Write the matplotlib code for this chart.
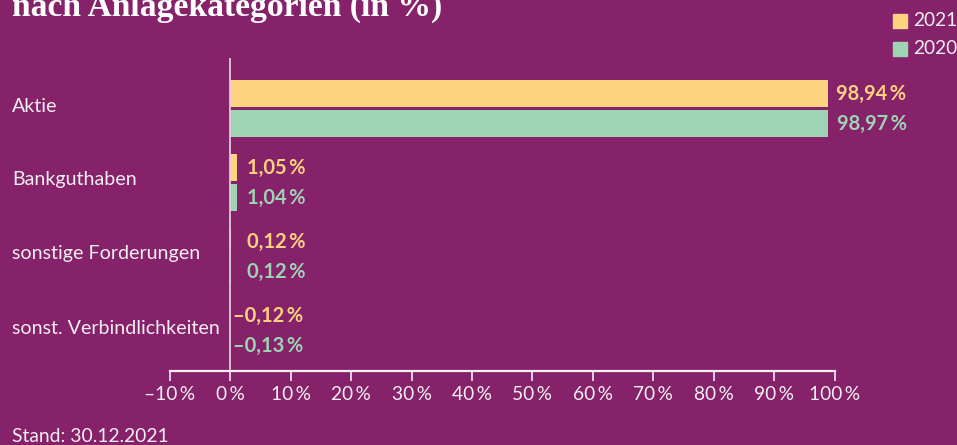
import matplotlib.pyplot as plt
from matplotlib.patches import Rectangle

categories = ["Aktie", "Bankguthaben", "sonstige Forderungen", "sonst. Verbindlichkeiten"]
values_2021 = [98.94, 1.05, 0.12, -0.12]
values_2020 = [98.97, 1.04, 0.12, -0.13]
xticks = [-10, 0, 10, 20, 30, 40, 50, 60, 70, 80, 90, 100]

bg = "#85226A"
yellow = "#FFD27F"
green = "#9ED3B4"
fg = "#F4EEF2"

plt.rcParams["font.family"] = ["Lato", "DejaVu Sans"]

W, H = 957, 445
fig = plt.figure(figsize=(W / 100, H / 100), dpi=100, facecolor=bg)

# axes placed in pixel terms: x from 170 to 834, y from 58 to 371
x0, x1, y0, y1 = 170, 834.5, 58, 371
ax = fig.add_axes([x0 / W, 1 - y1 / H, (x1 - x0) / W, (y1 - y0) / H])
ax.set_facecolor(bg)
ax.set_xlim(-10, 100)
spacing = 74.0
ax.set_ylim((y1 - 108.5) / spacing, (y0 - 108.5) / spacing)

h = 27 / spacing
off = 15 / spacing
for i, (a, b) in enumerate(zip(values_2021, values_2020)):
    ax.barh(i - off, a, height=h, color=yellow, linewidth=0)
    ax.barh(i + off, b, height=h, color=green, linewidth=0)
    for v, y, c in ((a, i - off, yellow), (b, i + off, green)):
        txt = f"{abs(v):.2f}".replace(".", ",") + "\u2009%"
        dx = 6
        if v < 0:
            txt = "\u2013" + txt
            dx = -3.5
        ax.annotate(txt, xy=(max(v, 1.3), y), xytext=(dx, 0), textcoords="offset points",
                    ha="left", va="center", color=c, fontsize=14.5, fontweight="bold")

ax.axvline(0, color="#D9CCD6", linewidth=1.3)

for s in ["top", "right", "left"]:
    ax.spines[s].set_visible(False)
ax.spines["bottom"].set_color(fg)
ax.spines["bottom"].set_linewidth(1.6)
ax.set_xticks(xticks)
ax.set_xticklabels([(f"\u2013{-t}" if t < 0 else f"{t}") + "\u2009%" for t in xticks])
ax.tick_params(axis="x", colors=fg, length=7, width=1.2, labelsize=13.8, pad=4)
ax.set_yticks([])

# category labels at figure left
for i, cat in enumerate(categories):
    fig.text(12 / W, 1 - (108.5 + spacing * i + 3) / H, cat,
             ha="left", va="baseline", color=fg, fontsize=14.1)

fig.text(12 / W, 1 - 16 / H, "nach Anlagekategorien (in %)", fontsize=24.2, fontweight="bold",
         family="Liberation Serif", color="white", ha="left", va="baseline")

# legend
for j, (lab, c) in enumerate((("2021", yellow), ("2020", green))):
    yc = 21 + 28 * j
    fig.patches.append(Rectangle((893 / W, 1 - (yc + 7) / H), 14 / W, 14 / H,
                                 transform=fig.transFigure, color=c, figure=fig))
    fig.text(913 / W, 1 - yc / H, lab, color=fg, fontsize=13.8, ha="left", va="center")

fig.text(12 / W, 1 - 442 / H, "Stand: 30.12.2021", color=fg, fontsize=13.9, ha="left", va="baseline")

fig.savefig("out.png", dpi=100, facecolor=bg)
